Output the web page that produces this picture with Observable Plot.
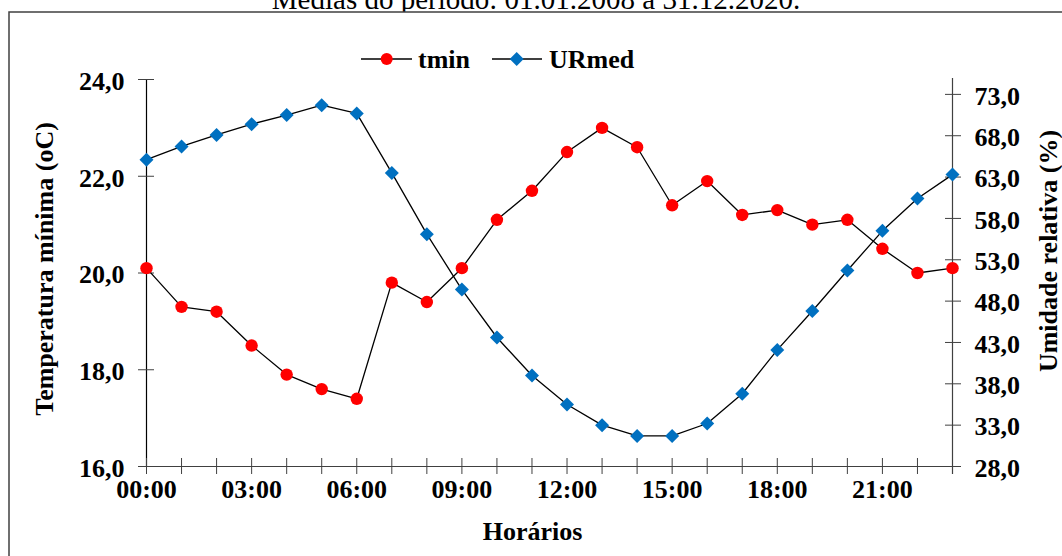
<!DOCTYPE html>
<html>
<head>
<meta charset="utf-8">
<script src="https://cdn.jsdelivr.net/npm/d3@7"></script>
<script src="https://cdn.jsdelivr.net/npm/@observablehq/plot@0.6"></script>
<style>
  html, body { margin: 0; padding: 0; background: #fff; }
  #wrap { position: relative; width: 1062px; height: 556px; overflow: hidden; }
  #wrap > svg { position: absolute; left: 0; top: 0; }
</style>
</head>
<body>
<div id="wrap"></div>
<script>
// Hourly means, 01.01.2008 – 31.12.2020
const hours = [0, 1, 2, 3, 4, 5, 6, 7, 8, 9, 10, 11, 12, 13, 14, 15, 16, 17, 18, 19, 20, 21, 22, 23];
const tmin = [20.1, 19.3, 19.2, 18.5, 17.9, 17.6, 17.4, 19.8, 19.4, 20.1, 21.1, 21.7,
              22.5, 23.0, 22.6, 21.4, 21.9, 21.2, 21.3, 21.0, 21.1, 20.5, 20.0, 20.1];
const urmed = [65.1, 66.7, 68.1, 69.4, 70.5, 71.7, 70.7, 63.5, 56.1, 49.4, 43.6, 39.0,
               35.5, 33.0, 31.7, 31.7, 33.2, 36.8, 42.1, 46.8, 51.7, 56.5, 60.4, 63.3];

// Axis ticks
const tTicks = [16, 18, 20, 22, 24];
const urTicks = [28, 33, 38, 43, 48, 53, 58, 63, 68, 73];
const hourLabelTicks = [0, 3, 6, 9, 12, 15, 18, 21];

// Axis domains (left: temperature, right: relative humidity)
const tDomain = [16, 24];
const urDomain = [28, 74.8];

const W = 1062, H = 556;
const serif = "'Liberation Serif', 'Times New Roman', serif";

// Humidity is drawn on the temperature scale through a linear map
const toT = u => tDomain[0] + (u - urDomain[0]) * (tDomain[1] - tDomain[0]) / (urDomain[1] - urDomain[0]);
const fromT = t => urDomain[0] + (t - tDomain[0]) * (urDomain[1] - urDomain[0]) / (tDomain[1] - tDomain[0]);
const comma1 = v => v.toFixed(1).replace(".", ",");
const fmtHour = h => String(h).padStart(2, "0") + ":00";

const rows = hours.map((h, i) => ({h, t: tmin[i], u: urmed[i]}));

const axisGray = "#404040";

const chart = Plot.plot({
  width: W,
  height: H,
  marginLeft: 146,
  marginRight: 110,
  marginTop: 79,
  marginBottom: 90,
  style: {fontFamily: serif, fontSize: "26px", fontWeight: "bold", background: "transparent", overflow: "visible", color: "#000"},
  x: {domain: [0, 23], label: null},
  y: {domain: tDomain, label: null},
  marks: [
    // axis lines
    Plot.ruleY([16], {stroke: axisGray, strokeWidth: 1.2, insetLeft: -8, insetRight: -8}),
    Plot.ruleX([23], {stroke: axisGray, strokeWidth: 1.2, insetTop: -1, insetBottom: -8}),
    Plot.ruleX([0], {stroke: "#000", strokeWidth: 1.2}),
    // crossing tick marks
    Plot.axisY({ticks: tTicks, tickSize: 16, dx: 8, tickFormat: () => "", stroke: axisGray, label: null}),
    Plot.axisY({anchor: "right", ticks: urTicks.map(toT), tickSize: 16, dx: -8, tickFormat: () => "", stroke: axisGray, label: null}),
    Plot.axisX({ticks: hours, tickSize: 16, dy: -8, tickFormat: () => "", stroke: axisGray, label: null}),
    // tick labels
    Plot.axisY({ticks: tTicks, tickSize: 0, tickPadding: 22, dy: 2, tickFormat: comma1, label: null, fill: "#000"}),
    Plot.axisY({anchor: "right", ticks: urTicks.map(toT), tickSize: 0, tickPadding: 22, dy: 2,
                tickFormat: t => comma1(Math.round(fromT(t) * 10) / 10), label: null, fill: "#000"}),
    Plot.axisX({ticks: hourLabelTicks, tickSize: 0, tickPadding: 13, tickFormat: fmtHour, label: null, fill: "#000"}),
    // axis titles
    Plot.text(["Temperatura mínima (oC)"], {text: d => d, frameAnchor: "left", textAnchor: "middle", dx: -102, dy: -4, rotate: -90, fill: "#000"}),
    Plot.text(["Umidade relativa (%)"], {text: d => d, frameAnchor: "right", textAnchor: "middle", dx: 96, dy: -22, rotate: -90, fill: "#000"}),
    Plot.text(["Horários"], {text: d => d, frameAnchor: "bottom", lineAnchor: "bottom", dx: -17, dy: 73, fill: "#000"}),
    // tmin series
    Plot.line(rows, {x: "h", y: "t", stroke: "#000", strokeWidth: 1.3}),
    Plot.dot(rows, {x: "h", y: "t", symbol: "circle", r: 6.2, fill: "#FF0000"}),
    // URmed series (right axis)
    Plot.line(rows, {x: "h", y: d => toT(d.u), stroke: "#000", strokeWidth: 1.3}),
    Plot.dot(rows, {x: "h", y: d => toT(d.u), symbol: "diamond2", r: 6.3, fill: "#0070C0"})
  ]
});

// Background layer: title and chart frame
const ns = "http://www.w3.org/2000/svg";
function el(name, attrs, parent, text) {
  const e = document.createElementNS(ns, name);
  for (const k in attrs) e.setAttribute(k, attrs[k]);
  if (text != null) e.textContent = text;
  if (parent) parent.appendChild(e);
  return e;
}
const back = el("svg", {width: W, height: H, viewBox: `0 0 ${W} ${H}`});
el("text", {x: 536, y: 9, "text-anchor": "middle", "font-family": serif, "font-size": 29, fill: "#000"}, back,
   "Médias do período: 01.01.2008 à 31.12.2020.");
el("rect", {x: 9, y: 12, width: 2000, height: 2000, fill: "#fff", stroke: "#404040", "stroke-width": 1.5}, back);

// Legend
const legend = el("svg", {width: W, height: H, viewBox: `0 0 ${W} ${H}`});
const lg = el("g", {"font-family": serif, "font-size": 26, "font-weight": "bold", fill: "#000"}, legend);
el("line", {x1: 361, x2: 412, y1: 59, y2: 59, stroke: "#000", "stroke-width": 1.3}, lg);
el("circle", {cx: 386.7, cy: 59, r: 6, fill: "#FF0000"}, lg);
el("text", {x: 418, y: 67.5}, lg, "tmin");
el("line", {x1: 492, x2: 542, y1: 59, y2: 59, stroke: "#000", "stroke-width": 1.3}, lg);
el("path", {d: "M516.7,52 L523.7,59 L516.7,66 L509.7,59 Z", fill: "#0070C0"}, lg);
el("text", {x: 549, y: 67.5}, lg, "URmed");

const wrap = document.getElementById("wrap");
wrap.appendChild(back);
wrap.appendChild(chart);
wrap.appendChild(legend);
</script>
</body>
</html>
